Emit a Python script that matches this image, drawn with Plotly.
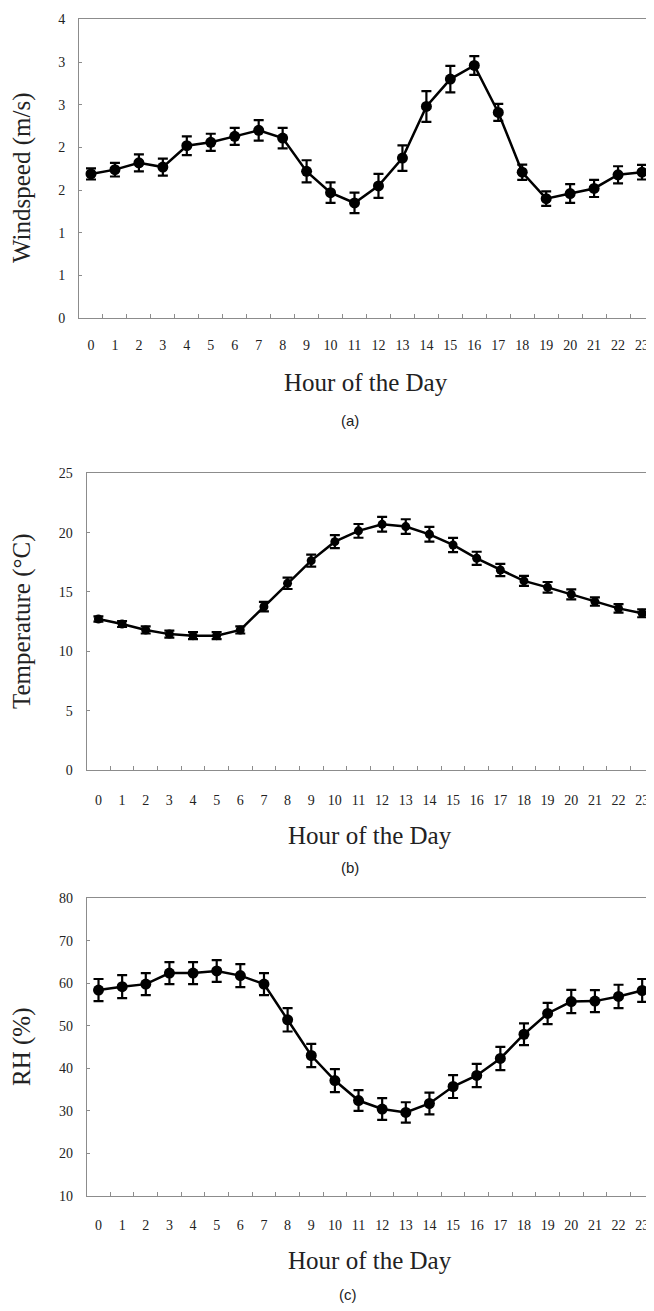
import plotly.graph_objects as go

hours = [str(h) for h in range(24)]

windspeed = [1.69, 1.74, 1.82, 1.77, 2.02, 2.06, 2.13, 2.20, 2.11, 1.72, 1.47, 1.35,
             1.55, 1.875, 2.48, 2.80, 2.96, 2.41, 1.71, 1.40, 1.46, 1.52, 1.68, 1.71]
windspeed_err = [0.065, 0.08, 0.10, 0.10, 0.11, 0.10, 0.10, 0.12, 0.12, 0.13, 0.12, 0.12,
                 0.14, 0.15, 0.18, 0.155, 0.11, 0.10, 0.09, 0.085, 0.11, 0.10, 0.10, 0.085]

temperature = [12.72, 12.30, 11.80, 11.45, 11.32, 11.32, 11.80, 13.76, 15.73, 17.64, 19.24, 20.15,
               20.70, 20.51, 19.86, 18.96, 17.84, 16.85, 15.93, 15.39, 14.80, 14.19, 13.62, 13.20]
temperature_err = [0.22, 0.25, 0.3, 0.3, 0.3, 0.3, 0.3, 0.4, 0.48, 0.5, 0.55, 0.58,
                   0.62, 0.62, 0.62, 0.6, 0.55, 0.52, 0.42, 0.45, 0.42, 0.35, 0.36, 0.33]

rh = [58.4, 59.2, 59.8, 62.4, 62.4, 62.9, 61.8, 59.8, 51.4, 43.0, 37.1, 32.4,
      30.4, 29.6, 31.7, 35.7, 38.3, 42.3, 48.0, 52.9, 55.7, 55.8, 56.9, 58.3]
rh_err = [2.6, 2.7, 2.6, 2.6, 2.6, 2.55, 2.7, 2.6, 2.75, 2.75, 2.7, 2.45,
          2.55, 2.4, 2.55, 2.7, 2.75, 2.75, 2.55, 2.5, 2.75, 2.6, 2.75, 2.7]

wind_tickvals = [0, 0.5, 1.0, 1.5, 2.0, 2.5, 3.0, 3.5]
wind_ticktext = ["0", "1", "1", "2", "2", "3", "3", "4"]
temp_tickvals = [0, 5, 10, 15, 20, 25]
rh_tickvals = [10, 20, 30, 40, 50, 60, 70, 80]

# page is 654x1311; the html body has an 8px margin on every side,
# so the figure is sized to avoid any scrollbar
OFF = 8
W, H = 654 - OFF, 1311 - 2 * OFF
SERIF = "Liberation Serif, Times New Roman, serif"
SANS = "Liberation Sans, Arial, sans-serif"
AXC = "#8c8c8c"

fig = go.Figure()

panels = [
    dict(y=windspeed, e=windspeed_err, xa="x", ya="y", ms=11),
    dict(y=temperature, e=temperature_err, xa="x2", ya="y2", ms=9),
    dict(y=rh, e=rh_err, xa="x3", ya="y3", ms=11),
]
for p in panels:
    fig.add_trace(go.Scatter(
        x=hours, y=p["y"], xaxis=p["xa"], yaxis=p["ya"],
        mode="lines+markers",
        line=dict(color="black", width=2.5),
        marker=dict(color="black", size=p["ms"], symbol="circle"),
        error_y=dict(type="data", array=p["e"], visible=True,
                     color="black", thickness=2.2, width=5),
        showlegend=False, hoverinfo="skip"))

def py(v):
    return 1 - (v - OFF) / H

def px(v):
    return (v - OFF) / W

def xaxis(domain_left, standoff):
    return dict(
        domain=[px(domain_left), 1.0], type="category", range=[-0.5, 23.5],
        tickson="boundaries", ticks="inside", ticklen=4, tickcolor=AXC, tickwidth=1,
        showline=True, linecolor=AXC, linewidth=1, mirror=True,
        showgrid=False, zeroline=False,
        tickfont=dict(family=SERIF, size=14, color="#222"),
        ticklabelstandoff=standoff, fixedrange=True)

def yaxis(top, bottom, rng, tickvals, ticktext=None):
    d = dict(
        domain=[py(bottom), py(top)], range=rng, tickmode="array", tickvals=tickvals,
        ticks="inside", ticklen=3, tickcolor=AXC, tickwidth=1,
        showline=True, linecolor=AXC, linewidth=1, mirror=True,
        showgrid=False, zeroline=False,
        tickfont=dict(family=SERIF, size=14, color="#222"),
        ticklabelstandoff=10, fixedrange=True)
    if ticktext is not None:
        d["ticktext"] = ticktext
    return d

fig.update_layout(
    width=W, height=H,
    margin=dict(l=0, r=0, t=0, b=0, autoexpand=False),
    paper_bgcolor="white", plot_bgcolor="white",
    xaxis=dict(xaxis(79, 14), anchor="y"),
    yaxis=dict(yaxis(19.3, 318.3, [0, 3.5], wind_tickvals, wind_ticktext), anchor="x"),
    xaxis2=dict(xaxis(86.6, 17), anchor="y2"),
    yaxis2=dict(yaxis(473.3, 770, [0, 25], temp_tickvals), anchor="x2"),
    xaxis3=dict(xaxis(86.7, 16), anchor="y3"),
    yaxis3=dict(yaxis(898.3, 1195.7, [10, 80], rh_tickvals), anchor="x3"),
)

annotations = [
    # y-axis titles
    dict(text="Windspeed (m/s)", x=px(22), y=py(178), textangle=-90, size=25, fam=SERIF),
    dict(text="Temperature (°C)", x=px(22), y=py(621), textangle=-90, size=25, fam=SERIF),
    dict(text="RH (%)", x=px(22), y=py(1047), textangle=-90, size=25, fam=SERIF),
    # x-axis titles
    dict(text="Hour of the Day", x=px(366), y=py(382), textangle=0, size=25, fam=SERIF),
    dict(text="Hour of the Day", x=px(370), y=py(835), textangle=0, size=25, fam=SERIF),
    dict(text="Hour of the Day", x=px(370), y=py(1260), textangle=0, size=25, fam=SERIF),
    # panel labels
    dict(text="(a)", x=px(350), y=py(420), textangle=0, size=15, fam=SANS),
    dict(text="(b)", x=px(350), y=py(867), textangle=0, size=15, fam=SANS),
    dict(text="(c)", x=px(348), y=py(1294), textangle=0, size=15, fam=SANS),
]
for a in annotations:
    fig.add_annotation(text=a["text"], x=a["x"], y=a["y"], xref="paper", yref="paper",
                       xanchor="center", yanchor="middle", textangle=a["textangle"],
                       showarrow=False,
                       font=dict(family=a["fam"], size=a["size"], color="#222"))

fig.write_html("out.html")
